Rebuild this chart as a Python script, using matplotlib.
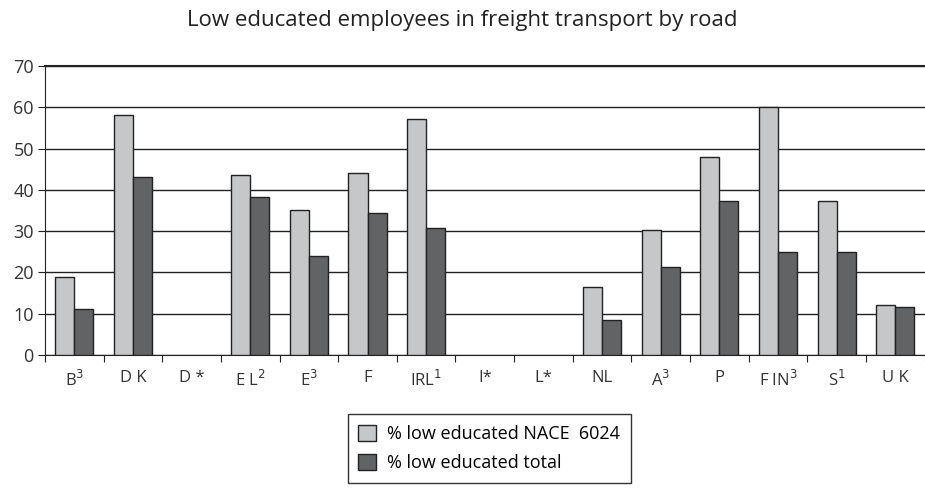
import numpy as np
import matplotlib
matplotlib.use('Agg')
import matplotlib.pyplot as plt

plt.rcParams['font.family'] = ['Open Sans', 'DejaVu Sans']

# dados (nan = sem dados)
paises = ['B$^3$', 'D K', 'D *', 'E L$^2$', 'E$^3$', 'F', 'IRL$^1$', 'I*', 'L*',
          'NL', 'A$^3$', 'P', 'F IN$^3$', 'S$^1$', 'U K']
nace_6024 = [18.9, 58.2, np.nan, 43.5, 35.1, 44.0, 57.2, np.nan, np.nan, 16.5, 30.3, 48.0, 60.0, 37.4, 12.2]
total = [11.2, 43.1, np.nan, 38.3, 24.1, 34.4, 30.7, np.nan, np.nan, 8.5, 21.4, 37.4, 25.0, 25.0, 11.7]

fig = plt.figure(figsize=(9.25, 4.88), dpi=100)
ax = fig.add_axes([0.0486, 0.2725, 0.951, 0.5922])

x = np.arange(len(paises))
w = 0.325
ax.bar(x - w / 2, nace_6024, w, color='#c6c7c9', edgecolor='#222222', linewidth=1,
       label='% low educated NACE  6024', zorder=3)
ax.bar(x + w / 2, total, w, color='#626365', edgecolor='#222222', linewidth=1,
       label='% low educated total', zorder=3)

ax.set_xlim(-0.5, len(paises) - 0.5)
ax.set_ylim(0, 70)
ax.set_yticks(range(0, 71, 10))
ax.yaxis.grid(True, color='#222222', linewidth=1, zorder=0)

ax.set_xticks(np.arange(len(paises) + 1) - 0.5)
ax.set_xticklabels([])
ax.set_xticks(x, minor=True)
ax.set_xticklabels(paises, minor=True, fontsize=12, color='#333333')
ax.tick_params(axis='x', which='major', length=5, direction='out', color='#222222')
ax.tick_params(axis='x', which='minor', length=0, pad=11)
ax.tick_params(axis='y', length=5, direction='out', labelsize=13, color='#222222',
               labelcolor='#333333', pad=3)

ax.spines['right'].set_visible(False)
ax.spines['top'].set_linewidth(1.5)
for s in ['top', 'left', 'bottom']:
    ax.spines[s].set_color('#222222')

fig.text(0.5, 0.957, 'Low educated employees in freight transport by road', ha='center',
         va='center', fontsize=16, color='#222222')

leg = fig.legend(loc='upper center', bbox_to_anchor=(0.529, 0.152), fontsize=13,
                 fancybox=False, edgecolor='#333333', framealpha=1, borderaxespad=0,
                 handlelength=1.0, handleheight=1.0, handletextpad=0.6, labelspacing=0.6,
                 borderpad=0.6)
leg.get_frame().set_linewidth(1)

fig.savefig('out.png', dpi=100)
